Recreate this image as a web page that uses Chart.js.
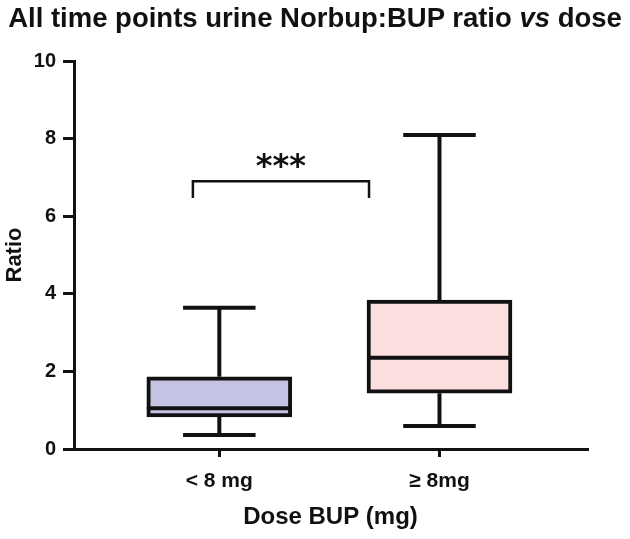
<!DOCTYPE html>
<html lang="en">
<head>
<meta charset="UTF-8">
<title>Norbup:BUP ratio vs dose</title>
<script src="https://cdn.jsdelivr.net/npm/chart.js"></script>
<style>
    body { margin: 0; background: #fff; }
    .wrap { position: relative; width: 630px; height: 539px; }
    #title {
        position: absolute; top: 2px; left: 0; width: 630px;
        text-align: center; white-space: nowrap; color: #111;
        font: bold 27.5px "Liberation Sans", Arial, sans-serif;
    }
    canvas { display: block; }
</style>
</head>
<body>
<div class="wrap">
    <div id="title">All time points urine Norbup:BUP ratio <i>vs</i> dose</div>
    <canvas id="chart" width="630" height="539"></canvas>
</div>
<script>
// groups on the x axis
const groups = ['< 8 mg', '\u2265 8mg'];
const groupPos = [0, 1];

// box plot values
const whiskerMin = [0.36, 0.59];
const boxQ1 = [0.83, 1.44];
const boxMedian = [1.05, 2.35];
const boxQ3 = [1.86, 3.84];
const whiskerMax = [3.64, 8.09];
const boxFill = ['#c5c3e3', '#fce0df'];

// y axis
const yMin = 0;
const yMax = 10;
const yStep = 2;

// significance bracket between the two groups
const bracketX = [-0.12, 0.68];
const bracketTop = 6.9;
const bracketFoot = 6.47;
const sigLabel = '***';

const ink = '#111';
const font = '"Liberation Sans", Arial, sans-serif';

const boxPlotLines = {
    id: 'boxPlotLines',
    beforeDatasetsDraw(chart) {
        // whiskers, drawn under the boxes
        const { ctx, scales: { x, y } } = chart;
        const bars = chart.getDatasetMeta(0).data;
        ctx.save();
        ctx.strokeStyle = ink;
        ctx.lineWidth = 4;
        groupPos.forEach((p, i) => {
            const cx = x.getPixelForValue(p);
            const half = bars[i].width / 4;
            const yLo = y.getPixelForValue(whiskerMin[i]);
            const yHi = y.getPixelForValue(whiskerMax[i]);
            ctx.beginPath();
            ctx.moveTo(cx, yHi); ctx.lineTo(cx, y.getPixelForValue(boxQ3[i]));
            ctx.moveTo(cx, y.getPixelForValue(boxQ1[i])); ctx.lineTo(cx, yLo);
            ctx.moveTo(cx - half, yHi); ctx.lineTo(cx + half, yHi);
            ctx.moveTo(cx - half, yLo); ctx.lineTo(cx + half, yLo);
            ctx.stroke();
        });
        ctx.restore();
    },
    afterDatasetsDraw(chart) {
        const { ctx, scales: { x, y } } = chart;
        const bars = chart.getDatasetMeta(0).data;
        ctx.save();
        ctx.strokeStyle = ink;
        // medians
        ctx.lineWidth = 4;
        groupPos.forEach((p, i) => {
            const b = bars[i];
            const my = y.getPixelForValue(boxMedian[i]);
            ctx.beginPath();
            ctx.moveTo(b.x - b.width / 2, my);
            ctx.lineTo(b.x + b.width / 2, my);
            ctx.stroke();
        });
        // bracket
        const x0 = x.getPixelForValue(bracketX[0]);
        const x1 = x.getPixelForValue(bracketX[1]);
        const yt = y.getPixelForValue(bracketTop);
        const yf = y.getPixelForValue(bracketFoot);
        ctx.lineWidth = 2.5;
        ctx.beginPath();
        ctx.moveTo(x0, yf); ctx.lineTo(x0, yt); ctx.lineTo(x1, yt); ctx.lineTo(x1, yf);
        ctx.stroke();
        // stars
        ctx.fillStyle = ink;
        ctx.font = 'bold 32px "DejaVu Sans", sans-serif';
        ctx.textAlign = 'center';
        ctx.textBaseline = 'alphabetic';
        ctx.fillText(sigLabel, (x0 + x1) / 2, yt - 5);
        ctx.restore();
    }
};

new Chart(document.getElementById('chart'), {
    type: 'bar',
    data: {
        datasets: [{
            data: groupPos.map((p, i) => ({ x: p, y: [boxQ1[i], boxQ3[i]] })),
            backgroundColor: boxFill,
            borderColor: ink,
            borderWidth: 4,
            borderSkipped: false,
            barThickness: 145
        }]
    },
    options: {
        responsive: false,
        animation: false,
        layout: { padding: { top: 61, right: 43, left: 0, bottom: 0 } },
        plugins: { legend: { display: false }, tooltip: { enabled: false } },
        scales: {
            x: {
                type: 'linear',
                offset: false,
                min: -0.66,
                max: 1.67,
                afterFit: s => { s.height = 90; },
                afterBuildTicks: s => { s.ticks = groupPos.map(v => ({ value: v })); },
                ticks: {
                    callback: (v, i) => groups[i],
                    color: ink,
                    padding: 12,
                    font: { family: font, size: 21, weight: 'bold' }
                },
                grid: { offset: false, drawOnChartArea: false, tickLength: 8, color: ink, lineWidth: 3 },
                border: { color: ink, width: 3 },
                title: {
                    display: true,
                    text: 'Dose BUP (mg)',
                    color: ink,
                    padding: { top: 0, bottom: 7 },
                    font: { family: font, size: 24, weight: 'bold' }
                }
            },
            y: {
                min: yMin,
                max: yMax,
                afterFit: s => { s.width = 74; },
                ticks: {
                    stepSize: yStep,
                    color: ink,
                    padding: 7,
                    font: { family: font, size: 20, weight: 'bold' }
                },
                grid: { drawOnChartArea: false, tickLength: 11, color: ink, lineWidth: 3 },
                border: { color: ink, width: 3 },
                title: {
                    display: true,
                    text: 'Ratio',
                    color: ink,
                    padding: { top: 2, bottom: 0 },
                    font: { family: font, size: 22, weight: 'bold' }
                }
            }
        }
    },
    plugins: [boxPlotLines]
});
</script>
</body>
</html>
